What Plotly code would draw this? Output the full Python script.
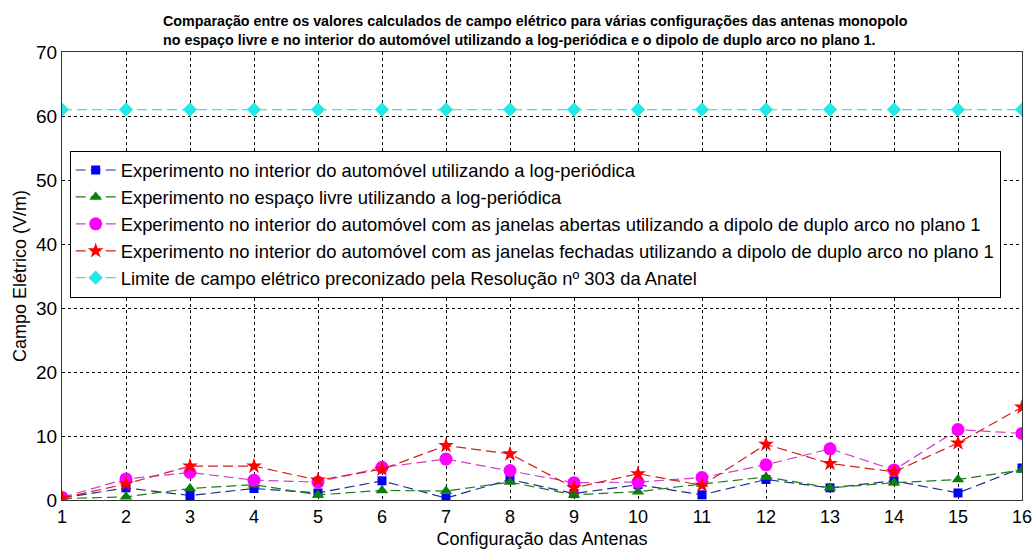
import plotly.graph_objects as go

# Configurações das antenas (eixo x)
configs = list(range(1, 17))

# Campo elétrico medido (V/m)
interior_logper = [0.3, 1.9, 0.7, 1.8, 1.1, 3.0, 0.3, 3.2, 1.0, 2.4, 0.8, 3.2, 1.9, 3.0, 1.1, 5.0]
livre_logper = [0.2, 0.5, 1.8, 2.4, 0.8, 1.5, 1.4, 2.8, 0.8, 1.3, 2.5, 3.6, 1.9, 2.7, 3.2, 4.7]
janelas_abertas = [0.4, 3.3, 4.3, 3.1, 2.8, 5.1, 6.4, 4.6, 2.7, 2.8, 3.5, 5.5, 8.0, 4.7, 11.0, 10.4]
janelas_fechadas = [0.3, 2.5, 5.3, 5.3, 3.1, 4.8, 8.5, 7.2, 1.9, 4.1, 2.3, 8.7, 5.7, 4.4, 8.9, 14.5]
limite_anatel = [61] * 16

y_ticks = [0, 10, 20, 30, 40, 50, 60, 70]

series = [
    ("Experimento no interior do automóvel utilizando a log-periódica",
     interior_logper, "#0000ff", "#1c2f8c", "square", 9),
    ("Experimento no espaço livre utilizando a log-periódica",
     livre_logper, "#0a800a", "#1e7a1e", "triangle-up", 11),
    ("Experimento no interior do automóvel com as janelas abertas utilizando a dipolo de duplo arco no plano 1",
     janelas_abertas, "#ff00ff", "#d040c8", "circle", 13),
    ("Experimento no interior do automóvel com as janelas fechadas utilizando a dipolo de duplo arco no plano 1",
     janelas_fechadas, "#ff0000", "#d02020", "star", 12),
    ("Limite de campo elétrico preconizado pela Resolução nº 303 da Anatel",
     limite_anatel, "#22e8e8", "#40e0e0", "diamond", 11),
]

font = "Liberation Sans, Arial, sans-serif"

fig = go.Figure()
for i, (name, vals, mcol, lcol, sym, size) in enumerate(series):
    fig.add_trace(go.Scatter(
        x=configs, y=vals, name=name, mode="lines+markers",
        line=dict(color=lcol, width=1.2, dash="10px,5px"),
        marker=dict(symbol=sym, size=size, color=mcol, line=dict(width=0)),
    ))

fig.update_layout(
    width=1036, height=550,
    margin=dict(l=62, r=14, t=52, b=50),
    paper_bgcolor="white", plot_bgcolor="white",
    font=dict(family=font, color="black"),
    showlegend=True,
    legend=dict(
        x=0.008, y=0.78, xanchor="left", yanchor="top",
        bgcolor="white", bordercolor="black", borderwidth=1,
        font=dict(size=18.4, family=font), itemwidth=40,
    ),
    annotations=[dict(
        text="<b>Comparação entre os valores calculados de campo elétrico para várias configurações das antenas monopolo<br>"
             "no espaço livre e no interior do automóvel utilizando a log-periódica e o dipolo de duplo arco no plano 1.</b>",
        xref="paper", yref="paper", x=0.493, y=1.0, yshift=2,
        xanchor="center", yanchor="bottom", showarrow=False,
        align="left", font=dict(size=14.3, family=font),
    )],
)

fig.update_xaxes(
    range=[1, 16], tickmode="array", tickvals=configs, automargin=False,
    showgrid=True, gridcolor="black", gridwidth=1, griddash="dot",
    showline=True, linecolor="#333", linewidth=1, mirror=True,
    ticks="", tickfont=dict(size=18), zeroline=False,
    title=dict(text="Configuração das Antenas", font=dict(size=18), standoff=6),
)
fig.update_yaxes(
    range=[0, 70], tickmode="array", tickvals=y_ticks, automargin=False,
    showgrid=True, gridcolor="black", gridwidth=1, griddash="dot",
    showline=True, linecolor="#333", linewidth=1, mirror=True,
    ticks="", tickfont=dict(size=19), zeroline=False,
    title=dict(text="Campo Elétrico (V/m)", font=dict(size=18), standoff=4),
)

fig.write_html("out.html")
